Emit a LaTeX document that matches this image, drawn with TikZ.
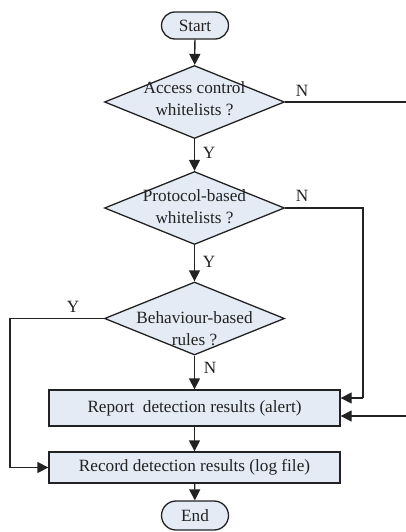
\documentclass[tikz,border=0pt]{standalone}
\usepackage{fontspec}
\setmainfont{Liberation Serif}
\usetikzlibrary{shapes.geometric,shapes.misc,arrows.meta,calc}
\definecolor{boxfill}{HTML}{E4EBF5}
\definecolor{ink}{HTML}{222222}
\begin{document}
\begin{tikzpicture}[x=1pt,y=-1pt,
  every node/.style={font=\fontsize{17.2}{22}\selectfont, text=ink},
  shapebase/.style={draw=ink, fill=boxfill, line width=1.3pt, inner sep=0pt},
  terminal/.style={shapebase, rounded rectangle, minimum width=67pt, minimum height=27pt},
  decision/.style={shapebase, diamond, minimum width=180pt, minimum height=73pt},
  process/.style={shapebase, rectangle, minimum width=291pt},
  flow/.style={draw=ink, line width=1.3pt, -{Triangle[length=11pt,width=11pt]}},
  link/.style={draw=ink, line width=1.3pt},
  tag/.style={inner sep=0pt}]
  \useasboundingbox (0,0) rectangle (406,532);
  \clip (0,0) rectangle (406,532);

  % main column
  \node[terminal] (start) at (195,25.5) {Start};
  \node[decision] (d1) at (194.5,102) {};
  \node[align=center] (t1) at (194.5,99) {Access control\\whitelists ?};
  \node[decision] (d2) at (194.5,208) {};
  \node[align=center] (t2) at (194.5,207) {Protocol-based\\whitelists ?};
  \node[decision] (d3) at (194.5,318.5) {};
  \node[align=center] (t3) at (194.5,329) {Behaviour-based\\rules ?};
  \node[process, minimum height=36pt] (report) at (194.5,408) {Report~~detection results (alert)};
  \node[process, minimum height=31pt] (record) at (194.5,467.5) {Record detection results (log file)};
  \node[terminal, minimum height=29pt] (end) at (195,515.5) {End};

  % straight flow
  \path[flow] (start) -- (d1);
  \path[flow] (d1) -- (d2);
  \path[flow] (d2) -- (d3);
  \path[flow] (d3) -- (report);
  \path[flow] (report) -- (record);
  \path[flow] (record) -- (end);

  % branch labels
  \node[tag] (n1) at (302,91) {N};
  \node[tag] (y1) at (209,153) {Y};
  \node[tag] (n2) at (302,196) {N};
  \node[tag] (y2) at (209,262) {Y};
  \node[tag] (y3) at (73,307) {Y};
  \node[tag] (n3) at (210,368) {N};

  % side branches
  \coordinate (c1) at (420,416);
  \coordinate (c2) at (363,398);
  \coordinate (c3) at (10,467.5);
  \path[link] (d1.east) -| (c1);
  \path[flow] (c1) -- (report.east |- c1);
  \path[link] (d2.east) -| (c2);
  \path[flow] (c2) -- (report.east |- c2);
  \path[link] (d3.west) -| (c3);
  \path[flow] (c3) -- (record.west);
\end{tikzpicture}
\end{document}
